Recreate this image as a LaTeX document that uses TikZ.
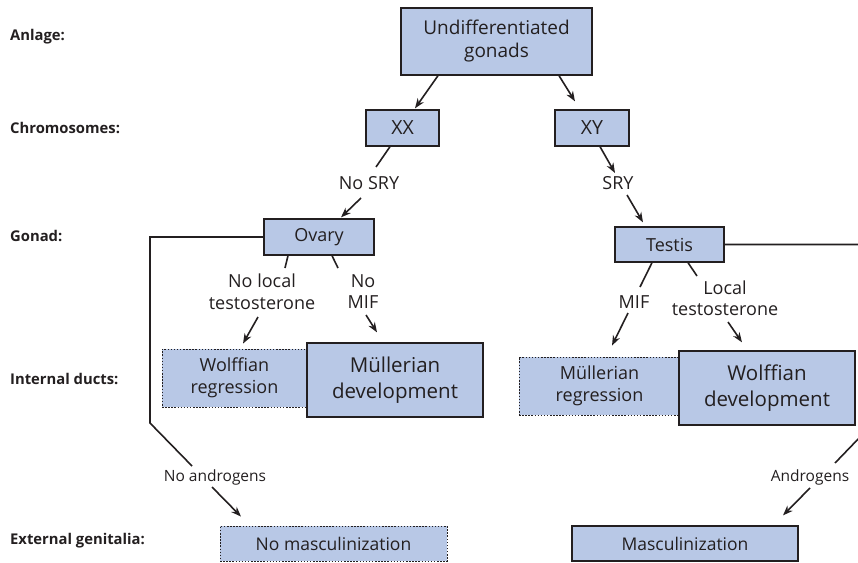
\documentclass[tikz,border=0pt]{standalone}
\usepackage{fontspec}
\setmainfont{Open Sans}
\usetikzlibrary{arrows.meta,calc}
\definecolor{boxblue}{HTML}{B8C8E6}
\definecolor{ink}{HTML}{231F20}
\begin{document}
\begin{tikzpicture}[x=1pt,y=-1pt,
  every node/.style={text=ink, inner sep=0pt, align=center},
  box/.style={draw=ink, fill=boxblue, line width=1.3pt},
  dbox/.style={draw=ink, fill=boxblue, line width=0.9pt, dash pattern=on 1.5pt off 1.6pt},
  lbl/.style={font=\fontsize{18}{21.5}\selectfont},
  slbl/.style={font=\fontsize{15.5}{18}\selectfont},
  side/.style={anchor=west, font=\bfseries\fontsize{14.8}{17}\selectfont},
  conn/.style={draw=ink, line width=1.6pt},
  arr/.style={conn, -{Stealth[length=10pt,width=7.5pt]}}]
\useasboundingbox (0,0) rectangle (858,562);
% side labels
\node[side] (s1) at (10,37) {Anlage:};
\node[side] (s2) at (10,128) {Chromosomes:};
\node[side] (s3) at (10,236) {Gonad:};
\node[side] (s4) at (10,379) {Internal ducts:};
\node[side] (s5) at (10,541) {External genitalia:};
% boxes
\node[box, minimum width=191pt, minimum height=67pt, font=\fontsize{19}{23}\selectfont] (undiff) at (496.5,41.5) {Undifferentiated\\gonads};
\node[box, minimum width=73pt, minimum height=36pt, font=\fontsize{19.5}{23}\selectfont] (xx) at (402.5,128) {XX};
\node[box, minimum width=74pt, minimum height=36pt, font=\fontsize{19.5}{23}\selectfont] (xy) at (592,128) {XY};
\node[box, minimum width=110pt, minimum height=36pt, font=\fontsize{18}{21}\selectfont] (ovary) at (319,237) {Ovary};
\node[box, minimum width=109pt, minimum height=35pt, font=\fontsize{18}{21}\selectfont] (testis) at (669.5,244.5) {Testis};
\node[dbox, minimum width=145pt, minimum height=58pt, font=\fontsize{18}{22}\selectfont] (wreg) at (234.5,378) {Wolffian\\regression};
\node[box, minimum width=176pt, minimum height=74pt, font=\fontsize{20.5}{26}\selectfont] (mdev) at (395,380) {Müllerian\\development};
\node[dbox, minimum width=161pt, minimum height=58pt, font=\fontsize{18}{22}\selectfont] (mreg) at (599.5,386) {Müllerian\\regression};
\node[box, minimum width=176pt, minimum height=74pt, font=\fontsize{20.5}{26}\selectfont] (wdev) at (767,388) {Wolffian\\development};
\node[dbox, minimum width=227pt, minimum height=35pt, font=\fontsize{17.5}{20}\selectfont] (nomasc) at (333.5,543.5) {No masculinization};
\node[box, minimum width=226pt, minimum height=35pt, font=\fontsize{17.5}{20}\selectfont] (masc) at (685,543.5) {Masculinization};
% labels
\node[lbl] (nosry) at (369,183) {No SRY};
\node[lbl] (sry) at (618,183) {SRY};
\node[lbl] (nolocal) at (262,291.5) {No local\\testosterone};
\node[lbl] (nomif) at (363,291.5) {No\\MIF};
\node[lbl] (mif) at (634,302) {MIF};
\node[lbl] (local) at (725,298) {Local\\testosterone};
\node[slbl] (noandro) at (215,477) {No androgens};
\node[slbl] (andro) at (810,477) {Androgens};
% connectors
\draw[arr] ($(undiff.south)+(-58.5,0)$) -- ($(xx.north)+(12.5,-1)$);
\draw[arr] ($(undiff.south)+(62.5,0)$) -- ($(xy.north)+(-17,-8)$);
\draw[conn] ($(xx.south)+(-12.5,0)$) -- ($(nosry)+(7,-16)$);
\draw[arr] ($(nosry)+(-8,15)$) -- ($(ovary.north)+(22,-1)$);
\draw[arr] ($(xy.south)+(8,0)$) -- ($(sry)+(-3,-10)$);
\draw[arr] ($(sry)+(9,12)$) -- ($(testis.north)+(-26.5,-4)$);
\draw[conn] ($(ovary.south)+(-31,0)$) -- ($(nolocal)+(23,-23.5)$);
\draw[arr] ($(nolocal)+(-4,25.5)$) -- ($(wreg.north)+(8.5,-5)$);
\draw[conn] ($(ovary.south)+(13,0)$) -- ($(nomif)+(-25,-23.5)$);
\draw[arr] ($(nomif)+(3,23.5)$) -- ($(mdev.north)+(-18,-10)$);
\draw[conn] ($(testis.south)+(-17.5,0)$) -- ($(mif)+(6,-15)$);
\draw[arr] ($(mif)+(-6,11)$) -- ($(mreg.north)+(12.5,-11)$);
\draw[conn] ($(testis.south)+(18.5,0)$) -- ($(local)+(-28,-22)$);
\draw[arr] ($(local)+(3,24)$) -- ($(wdev.north)+(-25,-8)$);
\coordinate (lc1) at (150,237);
\coordinate (lc2) at (150,423);
\draw[conn, line join=miter] (ovary.west) -- (lc1) -- (lc2) -- ($(noandro)+(-23,-11)$);
\draw[arr] ($(noandro)+(-3,10)$) -- ($(nomasc.north)+(-92.5,-9)$);
\coordinate (rc1) at (862,244.5);
\coordinate (rc2) at (862,435);
\draw[conn] (testis.east) -- (rc1) -- (rc2) -- ($(andro)+(25,-14)$);
\draw[arr] ($(andro)+(0,11)$) -- ($(masc.north)+(98,-10)$);
\end{tikzpicture}
\end{document}
